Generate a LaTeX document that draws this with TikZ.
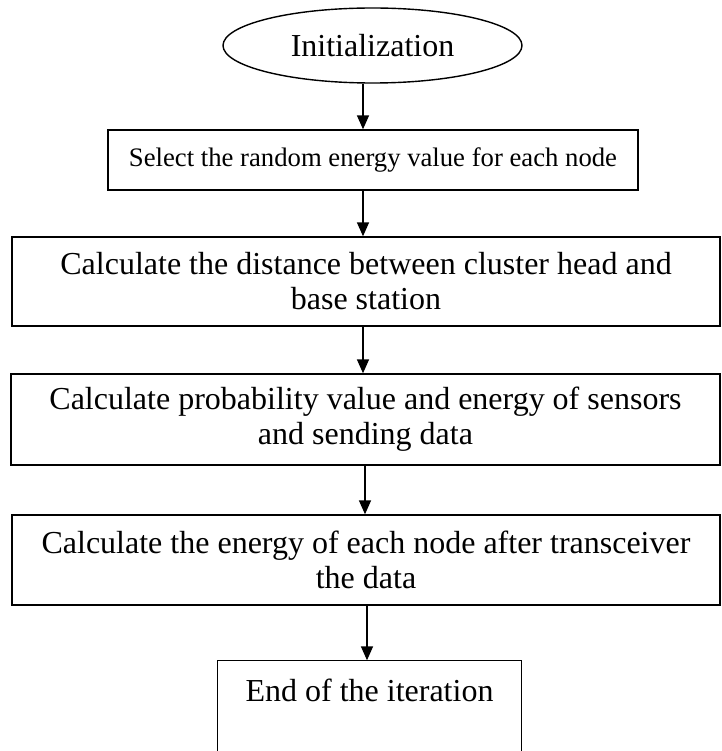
\documentclass[tikz,border=0pt]{standalone}
\usepackage{fontspec}
\setmainfont{Liberation Serif}
\usetikzlibrary{shapes.geometric,arrows.meta}
\begin{document}
\begin{tikzpicture}[x=1pt,y=-1pt,
  flowbox/.style={draw, line width=1.4pt, rectangle, inner sep=0pt, align=center,
    font=\fontsize{32}{35}\selectfont},
  arr/.style={line width=1.6pt, -{Triangle[length=14pt,width=12pt]}}]
\useasboundingbox (0,0) rectangle (721,751);
\node[draw, line width=1.4pt, ellipse, minimum width=299pt, minimum height=75pt, inner sep=0pt,
  font=\fontsize{32}{35}\selectfont] (init) at (372.5,45.5) {Initialization};
\node[flowbox, minimum width=530pt, minimum height=60pt, font=\fontsize{26.7}{30}\selectfont]
  (sel) at (373,160) {Select the random energy value for each node};
\node[flowbox, minimum width=708pt, minimum height=89pt] (dist) at (366,281.5)
  {Calculate the distance between cluster head and\\base station};
\node[flowbox, minimum width=709pt, minimum height=91pt] (prob) at (365.5,419.5)
  {Calculate probability value and energy of sensors\\and sending data};
\node[flowbox, minimum width=708pt, minimum height=90pt] (energy) at (366,560)
  {Calculate the energy of each node after transceiver\\the data};
\node[flowbox, draw=none, minimum width=303pt, minimum height=58pt] (end) at (369.5,690)
  {End of the iteration};
\draw[line width=1.4pt] (end.north west) ++(0,110) -- (end.north west) -- (end.north east) -- ++(0,110);
\coordinate (a1) at (363,0);
\coordinate (a4) at (365,0);
\coordinate (a5) at (367,0);
\draw[arr] (init.south -| a1) -- (sel.north -| a1);
\draw[arr] (sel.south -| a1) -- (dist.north -| a1);
\draw[arr] (dist.south -| a1) -- (prob.north -| a1);
\draw[arr] (prob.south -| a4) -- (energy.north -| a4);
\draw[arr] (energy.south -| a5) -- (end.north -| a5);
\end{tikzpicture}
\end{document}
